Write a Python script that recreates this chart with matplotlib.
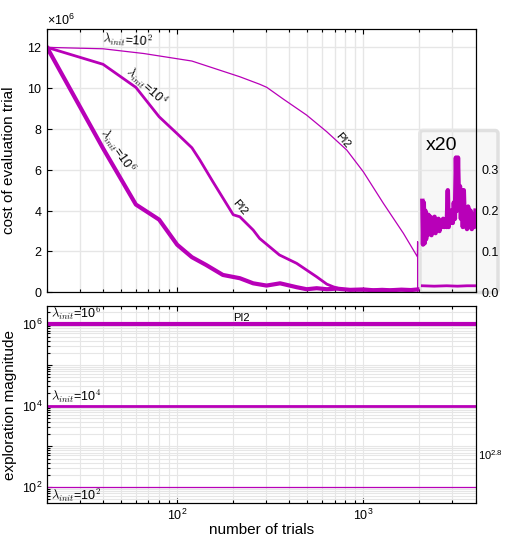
import math
import matplotlib
matplotlib.use("Agg")
import matplotlib.pyplot as plt
from matplotlib.ticker import (LogLocator, NullFormatter, FixedLocator,
                               ScalarFormatter, FuncFormatter, MultipleLocator)
from matplotlib.patches import FancyBboxPatch

plt.rcParams['font.family'] = ['Liberation Sans', 'DejaVu Sans']
plt.rcParams['mathtext.fontset'] = 'custom'
plt.rcParams['mathtext.rm'] = 'Liberation Sans'
plt.rcParams['mathtext.it'] = 'Liberation Sans:italic'
plt.rcParams['mathtext.bf'] = 'Liberation Sans:bold'

MAG = '#b800b8'
GRID = '#e6e6e6'

# ---- learning curves: cost of evaluation trial (millions) ----
trials_l2 = [20, 40, 66, 120, 217, 278, 303, 371, 496, 635, 814, 1000,
             1280, 1640, 1950, 1955, 1955]
cost_l2 = [12.0, 11.93, 11.7, 11.33, 10.56, 10.19, 10.04, 9.47, 8.68, 7.87,
           6.97, 5.9, 4.36, 2.89, 1.74, 2.48, 0.0]

trials_l4 = [20, 40, 60, 80, 100, 120, 132, 155, 200, 217, 256, 277, 354,
             438, 561, 636, 689, 760, 850, 1000, 1150, 1300, 1500, 1700, 1950]
cost_l4 = [12.0, 11.17, 10.04, 8.6, 7.77, 7.08, 6.5, 5.44, 3.8, 3.7, 3.05,
           2.64, 1.83, 1.42, 0.76, 0.4, 0.27, 0.15, 0.12, 0.1, 0.12, 0.1,
           0.12, 0.1, 0.13]

trials_l6 = [20, 40, 60, 80, 100, 120, 143, 176, 217, 256, 302, 357, 438,
             496, 561, 636, 719, 848, 1000, 1131, 1260, 1390, 1600, 1800, 1950]
cost_l6 = [12.0, 7.05, 4.3, 3.56, 2.33, 1.72, 1.34, 0.85, 0.69, 0.44, 0.33,
           0.44, 0.25, 0.15, 0.2, 0.15, 0.18, 0.12, 0.14, 0.1, 0.12, 0.1,
           0.13, 0.11, 0.14]

# ---- magnified tail (x20), right-hand scale ----
tail_trials = [2073, 2090, 2110, 2130, 2150, 2170, 2190, 2210, 2233, 2260,
               2290, 2320, 2350, 2380, 2410, 2440, 2470, 2500, 2530, 2560,
               2600, 2640, 2680, 2720, 2760, 2800, 2840, 2870, 2900, 2940,
               2980, 3020, 3060, 3100, 3140, 3180, 3220, 3260, 3300, 3340,
               3380, 3420, 3460, 3500, 3550, 3600, 3650, 3700, 3760, 3820,
               3880, 3940, 4000]
tail_high = [0.224, 0.117, 0.22, 0.12, 0.2, 0.13, 0.19, 0.14, 0.19, 0.16,
             0.185, 0.14, 0.18, 0.15, 0.185, 0.145, 0.175, 0.155, 0.18, 0.15,
             0.175, 0.16, 0.18, 0.16, 0.175, 0.16, 0.25, 0.16, 0.2, 0.17,
             0.2, 0.17, 0.22, 0.18, 0.33, 0.2, 0.33, 0.22, 0.26, 0.18,
             0.25, 0.16, 0.25, 0.17, 0.2, 0.155, 0.21, 0.16, 0.2, 0.155,
             0.19, 0.16, 0.2]
tail_low_trials = [2073, 2400, 2800, 3200, 3600, 4000]
tail_low = [0.016, 0.015, 0.016, 0.015, 0.016, 0.016]

# ---- exploration magnitude ----
span = [20, 4000]
lam_init = [1e6, 1e4, 1e2]
lam_lw = [3.0, 2.0, 0.9]

fig = plt.figure(figsize=(5.05, 5.41), dpi=100)
ax1 = fig.add_axes([0.0931, 0.4597, 0.8485, 0.4867])
ax2 = fig.add_axes([0.0931, 0.0702, 0.8485, 0.3641])

# ---------------- top panel ----------------
ax1.set_xscale('log')
ax1.set_xlim(20, 4000)
ax1.set_ylim(0, 12.9e6)
ax1.set_axisbelow(True)

box = FancyBboxPatch((420 / 505, 1 - 292.5 / 541), 78 / 505, 162 / 541,
                     boxstyle='round,pad=0,rounding_size=0.006',
                     transform=fig.transFigure, facecolor='#f7f7f7',
                     edgecolor='#e0e0e0', lw=2.5, clip_on=False, zorder=0.4)
ax1.add_patch(box)

ax1.plot(trials_l2, [c * 1e6 for c in cost_l2], color=MAG, lw=0.9)
ax1.plot(trials_l4, [c * 1e6 for c in cost_l4], color=MAG, lw=2.0)
ax1.plot(trials_l6, [c * 1e6 for c in cost_l6], color=MAG, lw=3.0)

ax1.yaxis.set_major_locator(MultipleLocator(2e6))
fmt = ScalarFormatter(useMathText=True)
fmt.set_powerlimits((6, 6))
ax1.yaxis.set_major_formatter(fmt)
ax1.yaxis.get_offset_text().set_fontsize(9)
ax1.xaxis.set_major_locator(LogLocator(base=10))
ax1.xaxis.set_minor_locator(LogLocator(base=10, subs=range(2, 10)))
ax1.xaxis.set_major_formatter(NullFormatter())
ax1.xaxis.set_minor_formatter(NullFormatter())
ax1.grid(True, axis='y', which='major', color=GRID, lw=1)
ax1.grid(True, axis='x', which='both', color=GRID, lw=1)
ax1.tick_params(which='both', direction='in', top=True, right=True,
                labelsize=9, width=0.8)
ax1.tick_params(which='major', length=3.5)
ax1.tick_params(which='minor', length=2)
ax1.set_ylabel('cost of evaluation trial', fontsize=11, labelpad=8)

ax1r = ax1.twinx()
ax1r.set_ylim(0, 12.9 / 20)
ax1r.plot(tail_trials, tail_high, color=MAG, lw=3.2)
ax1r.plot(tail_low_trials, tail_low, color=MAG, lw=2.0)
ax1r.yaxis.set_major_locator(FixedLocator([0.0, 0.1, 0.2, 0.3]))
ax1r.yaxis.set_major_formatter(FuncFormatter(lambda v, p: f'{v:.1f}'))
ax1r.tick_params(axis='y', length=0, labelsize=9, pad=4)
ax1r.set_xlim(20, 4000)

lbl = dict(fontsize=9, math_fontfamily='cm', ha='center', va='center',
           rotation_mode='anchor')
ax1.text(54, 12.36e6, r'$\lambda_{init}$=10$^2$', rotation=-4, **lbl)
ax1.text(68, 10.1e6, r'$\lambda_{init}$=10$^4$', rotation=-42, **lbl)
ax1.text(47.5, 6.92e6, r'$\lambda_{init}$=10$^6$', rotation=-55, **lbl)
ax1.text(217, 4.18e6, 'PI2', rotation=-50, fontsize=8, ha='center',
         va='center', rotation_mode='anchor')
ax1.text(778, 7.46e6, 'PI2', rotation=-50, fontsize=8, ha='center',
         va='center', rotation_mode='anchor')
fig.text(425.7 / 505, 1 - 145 / 541, 'x20', fontsize=14, ha='left',
         va='center')

# ---------------- bottom panel ----------------
ax2.set_xscale('log')
ax2.set_yscale('log')
ax2.set_xlim(20, 4000)
ax2.set_ylim(10 ** 1.607, 10 ** 6.45)
ax2.set_axisbelow(True)
for lam, lw in zip(lam_init, lam_lw):
    ax2.plot(span, [lam, lam], color=MAG, lw=lw)


def even_decades(v, pos):
    e = int(round(math.log10(v)))
    return rf'$10^{{{e}}}$' if e % 2 == 0 else ''


ax2.yaxis.set_major_locator(LogLocator(base=10, numticks=10))
ax2.yaxis.set_minor_locator(LogLocator(base=10, subs=range(2, 10), numticks=20))
ax2.yaxis.set_major_formatter(FuncFormatter(even_decades))
ax2.yaxis.set_minor_formatter(NullFormatter())
ax2.xaxis.set_major_locator(LogLocator(base=10))
ax2.xaxis.set_minor_locator(LogLocator(base=10, subs=range(2, 10)))
ax2.xaxis.set_minor_formatter(NullFormatter())
ax2.grid(True, which='both', color=GRID, lw=0.8)
ax2.tick_params(which='both', direction='in', top=True, right=True,
                labelsize=9, width=0.8)
ax2.tick_params(which='major', length=3.5)
ax2.tick_params(which='minor', length=2)
ax2.set_ylabel('exploration magnitude', fontsize=11, labelpad=3)
ax2.set_xlabel('number of trials', fontsize=11, labelpad=0)

ax2r = ax2.twinx()
ax2r.set_yscale('log')
ax2r.set_ylim(ax2.get_ylim())
ax2r.yaxis.set_major_locator(FixedLocator([10 ** 2.8]))
ax2r.yaxis.set_major_formatter(FuncFormatter(lambda v, p: r'$10^{2.8}$'))
ax2r.yaxis.set_minor_locator(FixedLocator([]))
ax2r.tick_params(axis='y', length=0, labelsize=8, pad=2)

lbl2 = dict(fontsize=9, math_fontfamily='cm', ha='left', va='center')
ax2.text(21, 10 ** 6.27, r'$\lambda_{init}$=10$^6$', **lbl2)
ax2.text(21, 10 ** 4.22, r'$\lambda_{init}$=10$^4$', **lbl2)
ax2.text(21, 10 ** 1.8, r'$\lambda_{init}$=10$^2$', **lbl2)
ax2.text(222, 10 ** 6.15, 'PI2', fontsize=8, ha='center', va='center')

fig.savefig('out.png', dpi=100)
